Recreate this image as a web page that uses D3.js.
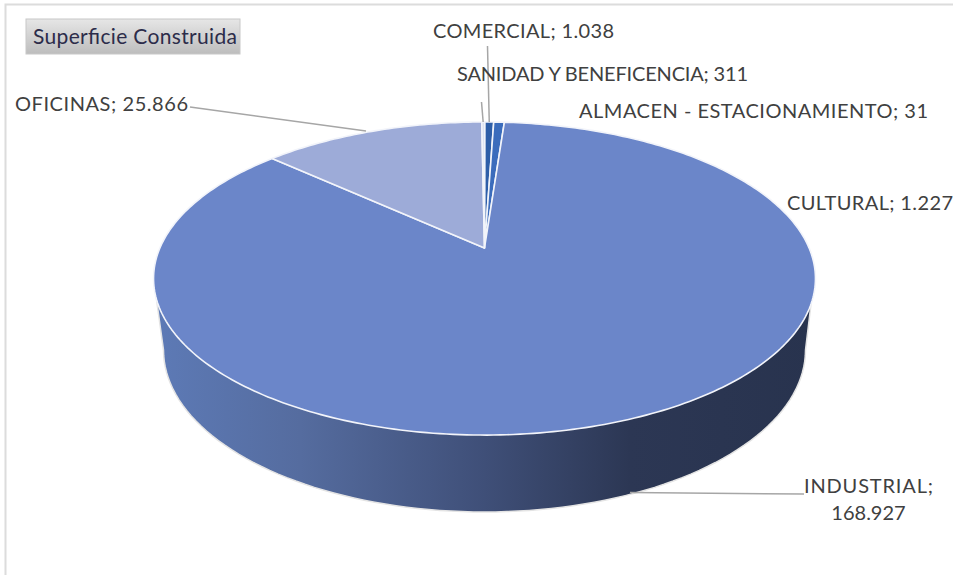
<!DOCTYPE html>
<html>
<head>
<meta charset="utf-8">
<script src="https://cdn.jsdelivr.net/npm/d3@7"></script>
<style>
html, body { margin: 0; padding: 0; background: #fff; }
svg { display: block; }
text { font-family: Lato, "Open Sans", sans-serif; }
</style>
</head>
<body>
<div id="chart"></div>
<script>
var categories = ["ALMACEN - ESTACIONAMIENTO", "COMERCIAL", "CULTURAL", "INDUSTRIAL", "OFICINAS", "SANIDAD Y BENEFICENCIA"];
var values = [31, 1038, 1227, 168927, 25866, 311];
var valueLabels = ["31", "1.038", "1.227", "168.927", "25.866", "311"];
var sliceColors = ["#2a5a9e", "#2e5ea8", "#3b6cbc", "#6b86c9", "#9dabd8", "#d5dcef"];
var buttonLabel = "Superficie Construida";

var width = 953, height = 575;

// perspective of the pie's top face: apex sits above the ellipse centre
var apexX = 484.5, apexY = 248;
var persp = 0.195, scaleX = 324.6, scaleY = 150.6;
// bottom rim of the side wall
var baseCx = 484.5, baseCy = 350, baseRx = 321, baseRy = 162;

function project(angle, r) {
    var s = Math.sin(angle) * r, c = Math.cos(angle) * r;
    var d = 1 + persp * c;
    return [apexX + scaleX * s / d, apexY - scaleY * c / d];
}

var svg = d3.select("#chart").append("svg")
    .attr("width", width)
    .attr("height", height);

var defs = svg.append("defs");
var wallGradient = defs.append("linearGradient")
    .attr("id", "wall")
    .attr("gradientUnits", "userSpaceOnUse")
    .attr("x1", 155).attr("x2", 815).attr("y1", 0).attr("y2", 0);
wallGradient.selectAll("stop")
    .data([[0, "#5d7ab6"], [0.22, "#556c9f"], [0.5, "#3f4f78"], [0.72, "#2c3754"], [1, "#28334e"]])
    .enter().append("stop")
    .attr("offset", function (d) { return d[0]; })
    .attr("stop-color", function (d) { return d[1]; });
var buttonGradient = defs.append("linearGradient")
    .attr("id", "btn")
    .attr("x1", 0).attr("x2", 0).attr("y1", 0).attr("y2", 1);
buttonGradient.append("stop").attr("offset", 0).attr("stop-color", "#e6e6e6");
buttonGradient.append("stop").attr("offset", 1).attr("stop-color", "#bdbdbd");

// chart frame, only top and left are in the shot
svg.append("path")
    .attr("d", "M5.5,575V4.5H953")
    .attr("fill", "none")
    .attr("stroke", "#dcdcdc")
    .attr("stroke-width", 2);

// side wall
var line = d3.line();
var wallPoints = d3.range(0, 181, 2).map(function (deg) {
    var a = deg * Math.PI / 180;
    return [baseCx + baseRx * Math.cos(a), baseCy + baseRy * Math.sin(a)];
});
wallPoints.unshift([812, 296]);
wallPoints.push([156, 296]);
svg.append("path")
    .attr("d", line(wallPoints) + "Z")
    .attr("fill", "url(#wall)")
    .attr("stroke", "#e4e4e4")
    .attr("stroke-width", 1.5);

// top face, one wedge per value
var pie = d3.pie().sort(null).value(function (d) { return d; });
var arcs = pie(values);

function wedgePath(d) {
    var n = Math.max(2, Math.ceil((d.endAngle - d.startAngle) * 60));
    var pts = [[apexX, apexY]];
    d3.range(n + 1).forEach(function (i) {
        pts.push(project(d.startAngle + (d.endAngle - d.startAngle) * i / n, 1));
    });
    return line(pts) + "Z";
}

svg.append("g").selectAll("path")
    .data(arcs)
    .enter().append("path")
    .attr("d", wedgePath)
    .attr("fill", function (d, i) { return sliceColors[i]; })
    .attr("stroke", "#f2f4fa")
    .attr("stroke-width", 1.6)
    .attr("stroke-linejoin", "round");

// leader lines: start on the rim of the slice, end at the label
var leaderEnds = [null, [[487.5, 46]], null, [[630, 492.5], [804, 494]], [[190, 107], [366, 131]], [[481.5, 102]]];
svg.append("g").selectAll("path")
    .data(arcs)
    .enter().append("path")
    .attr("d", function (d, i) {
        if (!leaderEnds[i]) return null;
        if (i === 3 || i === 4) return line(leaderEnds[i]);
        var mid = (d.startAngle + d.endAngle) / 2;
        return line([project(mid, 1), leaderEnds[i][0]]);
    })
    .attr("fill", "none")
    .attr("stroke", "#a6a6a6")
    .attr("stroke-width", 1.5);

// labels, stretched to the widths they have in the picture
var labelPos = [[753.5, 118], [523.5, 38], [870, 210], [868.5, 493], [101.5, 111], [602.5, 81]];
var labelWidths = [349, 181, 166, 129, 173, 291];
var labels = svg.append("g").selectAll("text")
    .data(categories)
    .enter().append("text")
    .attr("x", function (d, i) { return labelPos[i][0]; })
    .attr("y", function (d, i) { return labelPos[i][1]; })
    .attr("text-anchor", "middle")
    .attr("font-size", 20)
    .attr("fill", "#404040");
labels.each(function (d, i) {
    var t = d3.select(this);
    if (d === "INDUSTRIAL") {
        t.append("tspan").attr("textLength", labelWidths[i]).text(d + ";");
        t.append("tspan").attr("x", labelPos[i][0]).attr("dy", 27).text(valueLabels[i]);
    } else {
        t.attr("textLength", labelWidths[i]).text(d + "; " + valueLabels[i]);
    }
});

// title button
svg.append("rect")
    .attr("x", 26).attr("y", 19)
    .attr("width", 214).attr("height", 35)
    .attr("fill", "url(#btn)")
    .attr("stroke", "#c8c8c8");
svg.append("text")
    .attr("x", 135).attr("y", 44)
    .attr("text-anchor", "middle")
    .attr("font-size", 21)
    .attr("textLength", 204)
    .attr("fill", "#2c2c4a")
    .text(buttonLabel);
</script>
</body>
</html>
